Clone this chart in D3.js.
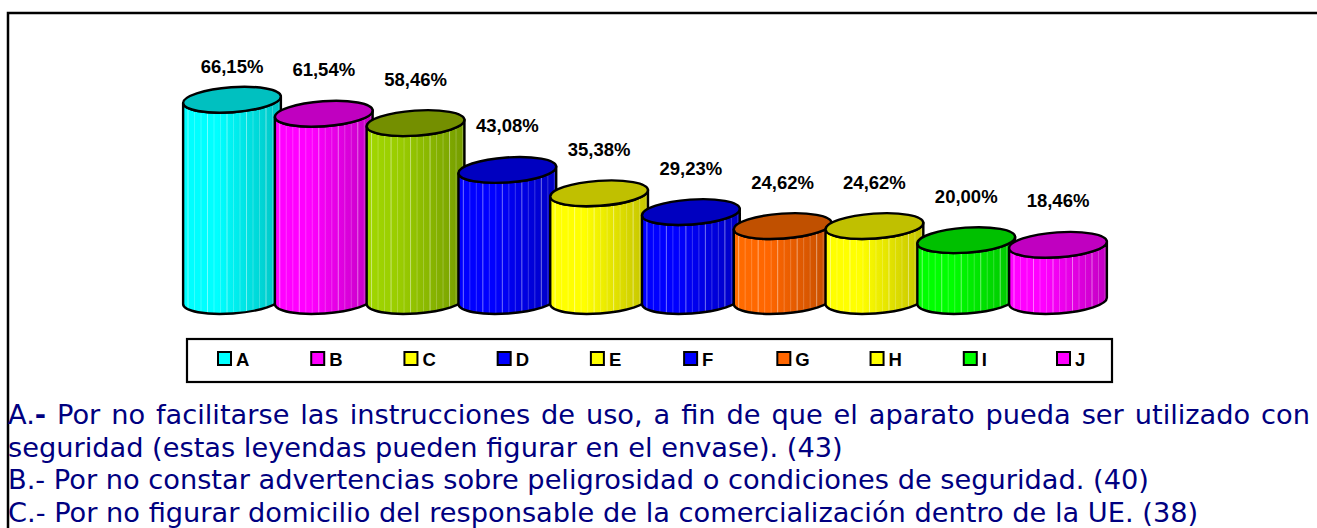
<!DOCTYPE html>
<html>
<head>
<meta charset="utf-8">
<script src="https://cdn.jsdelivr.net/npm/d3@7"></script>
<style>
  body { margin: 0; background: #fff; }
  svg { display: block; }
</style>
</head>
<body>
<svg id="chart" width="1317" height="528"></svg>
<script>
// categories and values
var categories = ['A', 'B', 'C', 'D', 'E', 'F', 'G', 'H', 'I', 'J'];
var values = [66.15, 61.54, 58.46, 43.08, 35.38, 29.23, 24.62, 24.62, 20.00, 18.46];
var labels = ['66,15%', '61,54%', '58,46%', '43,08%', '35,38%', '29,23%', '24,62%', '24,62%', '20,00%', '18,46%'];
var frontColors = ['#00ffff', '#ff00ff', '#99cc00', '#0000ff', '#ffff00', '#0000ff', '#ff6600', '#ffff00', '#00ff00', '#ff00ff'];
var topColors = ['#00c0c0', '#c000c0', '#748f00', '#0000c0', '#c0c000', '#0000c0', '#c05000', '#c0c000', '#00c000', '#c000c0'];
var legendColors = ['#00ffff', '#ff00ff', '#ffff00', '#0000ff', '#ffff00', '#0000ff', '#ff6600', '#ffff00', '#00ff00', '#ff00ff'];
var notes = [
    ['A.', '-', ' Por no facilitarse las instrucciones de uso, a fin de que el aparato pueda ser utilizado con'],
    ['seguridad (estas leyendas pueden figurar en el envase). (43)'],
    ['B.- Por no constar advertencias sobre peligrosidad o condiciones de seguridad. (40)'],
    ['C.- Por no figurar domicilio del responsable de la comercialización dentro de la UE. (38)']
];

var svg = d3.select('#chart');

// outer frame (only left and top edges show)
svg.append('path')
    .attr('d', 'M8,528 L8,13 L1317,13')
    .attr('fill', 'none')
    .attr('stroke', '#000')
    .attr('stroke-width', 2.5);

var x = d3.scalePoint().domain(categories).range([232, 1058]);
var y = d3.scaleLinear().domain([0, 70]).range([301, 88]);
var rx = 49, ry = 12.5, tilt = -4; // ellipse shape, degrees
var t = tilt * Math.PI / 180;
var dx = rx * Math.cos(t), dy = rx * Math.sin(t);

var defs = svg.append('defs');
categories.forEach(function (c, i) {
    var g = defs.append('linearGradient').attr('id', 'grad' + i)
        .attr('x1', '0%').attr('x2', '100%').attr('y1', '0%').attr('y2', '0%');
    g.append('stop').attr('offset', '0%').attr('stop-color', d3.color(frontColors[i]).brighter(0.15));
    g.append('stop').attr('offset', '35%').attr('stop-color', frontColors[i]);
    g.append('stop').attr('offset', '100%').attr('stop-color', d3.color(frontColors[i]).darker(0.75));
});

function bodyPath(cx, yTop, yBot) {
    return 'M' + (cx - dx) + ',' + (yTop - dy) +
        ' L' + (cx - dx) + ',' + (yBot - dy) +
        ' A' + rx + ',' + ry + ' ' + tilt + ' 0 0 ' + (cx + dx) + ',' + (yBot + dy) +
        ' L' + (cx + dx) + ',' + (yTop + dy) +
        ' A' + rx + ',' + ry + ' ' + tilt + ' 0 1 ' + (cx - dx) + ',' + (yTop - dy) + ' Z';
}

var bars = svg.append('g').selectAll('g')
    .data(categories)
    .enter().append('g');

bars.each(function (c, i) {
    var g = d3.select(this);
    var cx = x(c), yTop = y(values[i]), yBot = y(0);
    var d = bodyPath(cx, yTop, yBot);
    defs.append('clipPath').attr('id', 'clip' + i).append('path').attr('d', d);
    g.append('path').attr('d', d).attr('fill', 'url(#grad' + i + ')');
    // thin light stripes on the body
    g.append('g').attr('clip-path', 'url(#clip' + i + ')')
        .selectAll('line')
        .data(d3.range(-rx + 5, rx, 6.5))
        .enter().append('line')
        .attr('x1', function (o) { return cx + o; })
        .attr('x2', function (o) { return cx + o; })
        .attr('y1', yTop - 20)
        .attr('y2', yBot + 20)
        .attr('stroke', '#fff')
        .attr('stroke-opacity', function (o, k) { return k % 3 === 0 ? 0.45 : 0.22; })
        .attr('stroke-width', 1);
    g.append('path').attr('d', d).attr('fill', 'none')
        .attr('stroke', '#000').attr('stroke-width', 2.4).attr('stroke-linejoin', 'round');
    g.append('ellipse')
        .attr('cx', cx).attr('cy', yTop).attr('rx', rx).attr('ry', ry)
        .attr('transform', 'rotate(' + tilt + ',' + cx + ',' + yTop + ')')
        .attr('fill', topColors[i])
        .attr('stroke', '#000').attr('stroke-width', 2.4);
});

// value labels
svg.append('g').selectAll('text')
    .data(categories)
    .enter().append('text')
    .attr('x', function (c) { return x(c); })
    .attr('y', function (c, i) { return Math.max(67, y(values[i]) - 44); })
    .attr('dy', '0.35em')
    .attr('text-anchor', 'middle')
    .attr('font-family', '"Liberation Sans", Arial, sans-serif')
    .attr('font-weight', 'bold')
    .attr('font-size', 18.5)
    .attr('fill', '#000')
    .text(function (c, i) { return labels[i]; });

// legend
svg.append('rect')
    .attr('x', 187).attr('y', 339).attr('width', 925).attr('height', 43)
    .attr('fill', '#fff').attr('stroke', '#000').attr('stroke-width', 2.2);
var lx = d3.scalePoint().domain(categories).range([218, 1057]);
var items = svg.append('g').selectAll('g')
    .data(categories)
    .enter().append('g')
    .attr('transform', function (c) { return 'translate(' + lx(c) + ',352)'; });
items.append('rect')
    .attr('x', 0).attr('y', 0).attr('width', 13).attr('height', 13)
    .attr('fill', function (c, i) { return legendColors[i]; })
    .attr('stroke', '#000').attr('stroke-width', 2);
items.append('text')
    .attr('x', 18).attr('y', 13.5)
    .attr('font-family', '"Liberation Sans", Arial, sans-serif')
    .attr('font-weight', 'bold')
    .attr('font-size', 18.5)
    .text(function (c) { return c; });

// footnotes
var noteText = svg.append('g')
    .attr('font-family', '"DejaVu Sans", Verdana, sans-serif')
    .attr('fill', '#000080')
    .selectAll('text')
    .data(notes)
    .enter().append('text')
    .attr('x', 8)
    .attr('y', function (n, i) { return 424 + i * 32.5; })
    .attr('font-size', 22);
noteText.selectAll('tspan')
    .data(function (n) { return n; })
    .enter().append('tspan')
    .attr('font-weight', function (s) { return s === '-' ? 'bold' : null; })
    .text(function (s) { return s; });

// fit font so line 2 ends where it does in the picture, then justify line 1
var nodes = noteText.nodes();
var fs = 22 * 835 / nodes[1].getComputedTextLength();
noteText.attr('font-size', fs);
var w0 = nodes[0].getComputedTextLength();
var spaces = notes[0].join('').split(' ').length - 1;
d3.select(nodes[0]).attr('word-spacing', (1302 - w0) / spaces);
</script>
</body>
</html>
